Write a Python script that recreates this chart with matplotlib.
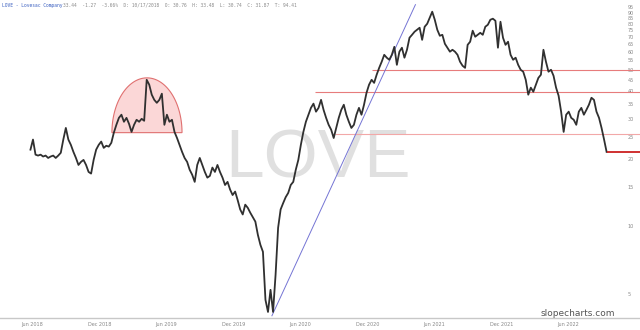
import matplotlib
matplotlib.use('Agg')
import matplotlib.pyplot as plt
import matplotlib.dates as mdates
from matplotlib.ticker import NullLocator
import numpy as np
import pandas as pd

# ---------------- data ----------------
ticker = "LOVE"
title_name = "LOVE - Lovesac Company"
header_vals = "33.44  -1.27  -3.66%  D: 10/17/2018  O: 30.76  H: 33.48  L: 30.74  C: 31.87  T: 94.41"

start_date = "2018-06-27"
end_date = "2022-10-14"
close = [
    22.0, 24.4, 20.9, 20.7, 20.9, 20.5, 20.7, 20.2, 20.5, 20.7, 20.2, 20.7, 21.3, 24.4, 27.5, 24.4,
    23.1, 21.5, 20.2, 18.8, 19.4, 19.8, 18.8, 17.5, 17.2, 19.8, 22.0, 23.1, 23.9, 22.4, 22.9, 22.7,
    23.6, 26.2, 28.4, 30.5, 31.5, 29.3, 30.5, 28.7, 26.4, 28.4, 29.9, 29.3, 30.2, 29.6, 45.1, 42.9,
    38.7, 36.7, 35.6, 36.7, 39.1, 28.4, 31.5, 29.3, 29.9, 26.4, 24.8, 23.1, 21.5, 20.2, 19.4, 17.9,
    17.0, 15.8, 18.8, 20.2, 18.8, 17.5, 16.5, 16.8, 18.3, 17.5, 18.8, 17.5, 16.5, 15.3, 15.8, 14.6,
    13.8, 14.3, 13.1, 11.9, 11.3, 12.5, 12.1, 11.5, 11.0, 10.5, 9.16, 8.27, 7.70, 4.70, 4.15, 5.21,
    4.15, 6.08, 9.85, 11.9, 12.7, 13.5, 14.1, 15.3, 15.8, 17.9, 19.8, 23.1, 26.4, 29.3, 31.5, 33.8,
    35.3, 32.5, 33.8, 36.7, 33.1, 30.5, 28.4, 27.0, 24.8, 27.5, 30.5, 33.1, 34.9, 31.5, 29.3, 27.5,
    28.4, 31.5, 33.8, 31.5, 34.9, 39.5, 42.9, 45.1, 43.7, 47.5, 51.0, 54.3, 58.3, 56.6, 55.4, 58.3,
    63.3, 52.6, 60.2, 62.7, 56.6, 61.4, 69.5, 71.6, 73.9, 75.4, 77.0, 68.0, 77.8, 80.2, 85.4, 90.8,
    83.6, 75.4, 70.9, 71.6, 65.3, 62.7, 60.2, 61.4, 60.2, 58.3, 54.3, 52.1, 51.0, 64.6, 66.7, 74.7,
    70.2, 71.6, 73.1, 71.6, 77.8, 79.4, 83.6, 84.5, 82.7, 62.7, 81.9, 69.5, 64.6, 66.7, 58.3, 55.4,
    56.6, 52.6, 50.0, 49.0, 45.1, 38.7, 41.6, 39.9, 42.9, 46.0, 47.5, 61.4, 54.3, 49.0, 50.0, 47.0,
    41.6, 38.3, 32.5, 26.4, 31.5, 32.5, 30.5, 29.9, 28.4, 32.5, 33.8, 31.5, 33.1, 34.9, 37.5, 36.7,
    32.5, 30.5, 27.5, 24.4, 21.5,
]

ytick_values = [5, 10, 15, 20, 25, 30, 35, 40, 45, 50, 55, 60, 65, 70, 75, 80, 85, 90, 95]
xtick_dates = ["2018-06-01", "2018-12-01", "2019-06-01", "2019-12-01", "2020-06-01",
               "2020-12-01", "2021-06-01", "2021-12-01", "2022-06-01"]
xtick_labels = ["Jun 2018", "Dec 2018", "Jun 2019", "Dec 2019", "Jun 2020",
                "Dec 2020", "Jun 2021", "Dec 2021", "Jun 2022"]

resistance_levels = [50.0, 39.6, 25.9]
resistance_starts = ["2021-01-13", "2020-08-10", "2020-10-04"]
resistance_colors = ["#e77c7c", "#e77c7c", "#f2a8a8"]
last_level = 21.5
trend_dates = ["2020-04-15", "2021-05-11"]
trend_prices = [3.99, 97.6]
dome_dates = ["2019-02-04", "2019-08-14"]
dome_base = 26.2
dome_top = 46.0

x_range = ["2018-04-05", "2023-01-13"]
y_range = [3.90, 102.4]

# ---------------- plot ----------------
dates = pd.date_range(start_date, end_date, periods=len(close))

fig = plt.figure(figsize=(6.4, 3.3), dpi=100)
ax = fig.add_axes([0, 12 / 330, 1, 318 / 330])
ax.set_facecolor('white')

ax.set_yscale('log')
ax.set_ylim(*y_range)
ax.set_xlim(pd.Timestamp(x_range[0]), pd.Timestamp(x_range[1]))

# watermark
ax.text(0.497, 0.50, ticker, transform=ax.transAxes, ha='center', va='center',
        fontsize=50, color='#e0e0e0', family='Liberation Sans', zorder=0)

# dome
d0, d1 = mdates.date2num(pd.to_datetime(dome_dates))
c = (d0 + d1) / 2
a = (d1 - d0) / 2
t = np.linspace(0, np.pi, 200)
xs = c + a * np.cos(t)
lb, lt = np.log10(dome_base), np.log10(dome_top)
ys = 10 ** (lb + (lt - lb) * np.sin(t))
ax.fill(xs, ys, facecolor='#fbd7d7', edgecolor='#e07070', lw=0.8, zorder=2)

# horizontal levels
xr = mdates.date2num(pd.Timestamp(x_range[1]))
for lvl, st, col in zip(resistance_levels, resistance_starts, resistance_colors):
    ax.hlines(lvl, mdates.date2num(pd.Timestamp(st)), xr, color=col, lw=0.8, zorder=2)
ax.hlines(last_level, mdates.date2num(dates[-1]), xr, color='#cc2020', lw=1.3, zorder=4)

# trend line
ax.plot(pd.to_datetime(trend_dates), trend_prices, color='#7474d4', lw=0.7, zorder=2)

# price
ax.plot(dates, close, color='#303030', lw=1.3, zorder=3)

# axes styling
for s in ['left', 'right', 'top']:
    ax.spines[s].set_visible(False)
ax.spines['bottom'].set_color('#c8c8c8')
ax.spines['bottom'].set_linewidth(1.0)

ax.yaxis.set_minor_locator(NullLocator())
ax.set_yticks(ytick_values)
ax.set_yticklabels([str(v) for v in ytick_values])
ax.yaxis.tick_right()
ax.tick_params(axis='y', length=0, pad=-9, labelsize=3.5, labelcolor='#888888')

ax.set_xticks(pd.to_datetime(xtick_dates))
ax.set_xticklabels(xtick_labels)
ax.xaxis.set_minor_locator(NullLocator())
ax.tick_params(axis='x', length=0, pad=3, labelsize=3.5, labelcolor='#888888')
for lab in ax.get_xticklabels():
    lab.set_ha('left')

# header and footer
fig.text(0.003, 0.992, title_name, ha='left', va='top', fontsize=3.3,
         color='#3a5fc0', family='DejaVu Sans Mono')
fig.text(0.098, 0.992, header_vals, ha='left', va='top', fontsize=3.3,
         color='#8a8a8a', family='DejaVu Sans Mono')
fig.text(0.903, 1 - 314 / 330, "slopecharts.com", ha='center', va='center',
         fontsize=6.5, color='#555555', family='DejaVu Sans')

fig.savefig('out.png', dpi=100, facecolor='white')
